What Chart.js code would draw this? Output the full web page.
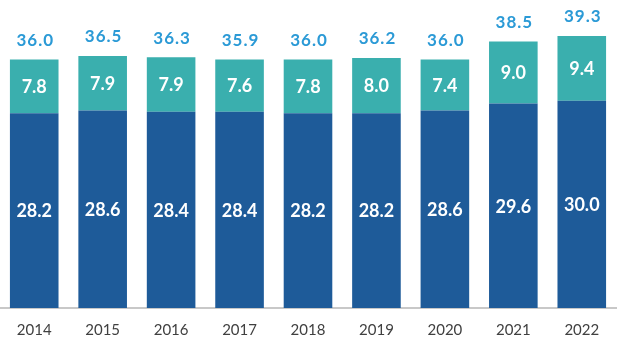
<!DOCTYPE html>
<html>
<head>
<meta charset="utf-8">
<script src="https://cdn.jsdelivr.net/npm/chart.js@4.4.0/dist/chart.umd.min.js"></script>
<style>
  html, body { margin: 0; padding: 0; background: #fff; }
  #wrap { width: 620px; height: 349px; }
</style>
</head>
<body>
<div id="wrap"><canvas id="chart"></canvas></div>
<script>
const years = ['2014', '2015', '2016', '2017', '2018', '2019', '2020', '2021', '2022'];
const lowerValues = [28.2, 28.6, 28.4, 28.4, 28.2, 28.2, 28.6, 29.6, 30.0];
const upperValues = [7.8, 7.9, 7.9, 7.6, 7.8, 8.0, 7.4, 9.0, 9.4];
const totals = [36.0, 36.5, 36.3, 35.9, 36.0, 36.2, 36.0, 38.5, 39.3];

// draws values inside the segments and the totals above each bar
const barLabels = {
  id: 'barLabels',
  afterDatasetsDraw(chart) {
    const ctx = chart.ctx;
    ctx.save();
    ctx.textAlign = 'center';
    ctx.textBaseline = 'middle';
    ctx.fillStyle = '#ffffff';
    ctx.font = 'bold 18px Lato';
    chart.data.datasets.forEach((ds, i) => {
      const meta = chart.getDatasetMeta(i);
      meta.data.forEach((bar, j) => {
        ctx.fillText(ds.data[j].toFixed(1), bar.x, (bar.y + bar.base) / 2 + 1);
      });
    });
    const top = chart.getDatasetMeta(chart.data.datasets.length - 1);
    ctx.fillStyle = '#2b9ad6';
    ctx.font = 'bold 17px Lato';
    ctx.letterSpacing = '1px';
    top.data.forEach((bar, j) => {
      ctx.fillText(totals[j].toFixed(1), bar.x + 1, bar.y - 19);
    });
    ctx.restore();
  }
};

new Chart(document.getElementById('chart'), {
  type: 'bar',
  data: {
    labels: years,
    datasets: [
      {
        data: lowerValues,
        backgroundColor: '#1e5b99',
        barPercentage: 0.71,
        categoryPercentage: 1
      },
      {
        data: upperValues,
        backgroundColor: '#3aafae',
        barPercentage: 0.71,
        categoryPercentage: 1
      }
    ]
  },
  options: {
    responsive: true,
    maintainAspectRatio: false,
    animation: false,
    layout: { padding: { left: -4, right: 4, top: 0, bottom: -3 } },
    plugins: {
      legend: { display: false },
      tooltip: { enabled: false }
    },
    scales: {
      x: {
        stacked: true,
        grid: { display: false, drawTicks: false },
        border: { display: true, color: '#c8c8c8', width: 2 },
        ticks: { color: '#404040', font: { family: 'Lato', size: 15 }, padding: 13 }
      },
      y: {
        stacked: true,
        display: false,
        min: 0,
        max: 44.6
      }
    }
  },
  plugins: [barLabels]
});
</script>
</body>
</html>
